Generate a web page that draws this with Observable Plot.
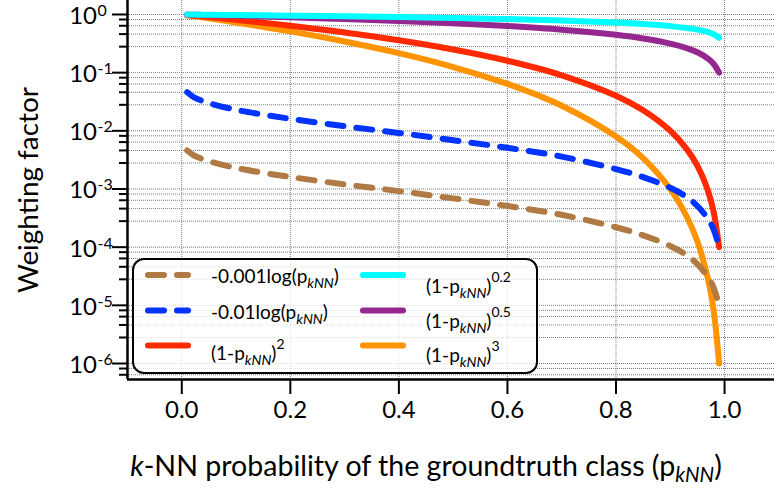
<!DOCTYPE html>
<html><head><meta charset="utf-8">
<script src="https://cdn.jsdelivr.net/npm/d3@7"></script>
<script src="https://cdn.jsdelivr.net/npm/@observablehq/plot@0.6"></script>
<style>body{margin:0;background:#fff;} svg{display:block}</style>
</head><body><div id="chart"></div>
<script>
// ---- data ----
const pKNN   = [0.01,0.02,0.03,0.05,0.1,0.15,0.2,0.3,0.4,0.5,0.6,0.7,0.8,0.85,0.9,0.93,0.95,0.97,0.98,0.99];
const wLog001 = [4.6e-3,3.9e-3,3.5e-3,3.0e-3,2.3e-3,1.9e-3,1.61e-3,1.2e-3,9.2e-4,6.9e-4,5.1e-4,3.6e-4,2.2e-4,1.6e-4,1.05e-4,7.3e-5,5.1e-5,3.0e-5,2.0e-5,1.0e-5];
const wLog01  = [4.6e-2,3.9e-2,3.5e-2,3.0e-2,2.3e-2,1.9e-2,1.61e-2,1.2e-2,9.2e-3,6.9e-3,5.1e-3,3.6e-3,2.2e-3,1.6e-3,1.05e-3,7.3e-4,5.1e-4,3.0e-4,2.0e-4,1.0e-4];
const wPow2   = [0.98,0.96,0.941,0.903,0.81,0.723,0.64,0.49,0.36,0.25,0.16,0.09,0.04,0.0225,0.01,0.0049,0.0025,0.0009,0.0004,0.0001];
const wPow02  = [0.998,0.996,0.994,0.990,0.979,0.968,0.956,0.931,0.903,0.871,0.833,0.786,0.725,0.684,0.631,0.588,0.549,0.496,0.457,0.398];
const wPow05  = [0.995,0.990,0.985,0.975,0.949,0.922,0.894,0.837,0.775,0.707,0.632,0.548,0.447,0.387,0.316,0.265,0.224,0.173,0.141,0.1];
const wPow3   = [0.970,0.941,0.913,0.857,0.729,0.614,0.512,0.343,0.216,0.125,0.064,0.027,0.008,0.0034,0.001,0.00034,0.000125,0.000027,0.000008,0.000001];

const seriesKeys   = ["log001","log01","pow2","pow02","pow05","pow3"];
const seriesValues = [wLog001, wLog01, wPow2, wPow02, wPow05, wPow3];
const seriesColors = ["#B07A44","#0033FF","#FF2A00","#00FFFF","#952791","#FF9400"];
const seriesDashed = [true, true, false, false, false, false];
const drawOrder    = ["pow3","pow2","pow05","pow02","log001","log01"];
const legendMain   = ["-0.001log(p","-0.01log(p","(1-p","(1-p","(1-p","(1-p"];
const legendSub    = ["kNN","kNN","kNN","kNN","kNN","kNN"];
const legendSup    = ["","","2","0.2","0.5","3"];

const xTicks = [0,0.2,0.4,0.6,0.8,1.0];
const yMajorExp = [0,-1,-2,-3,-4,-5,-6];
const yMinorFactors = [0.82,0.64,0.46,0.28];
const xDomain = [-0.1, 1.092];
const yDomain = [Math.pow(10,-6.275), Math.pow(10,0.2405)];

// ---- build table ----
const rows = [];
seriesKeys.forEach((k, s) => pKNN.forEach((p, i) => rows.push({key: k, p, w: seriesValues[s][i]})));
const yMajors = yMajorExp.map(e => Math.pow(10, e));
const yMinors = yMajorExp.flatMap(e => yMinorFactors.map(f => f * Math.pow(10, e)))
  .filter(v => v >= yDomain[0] && v <= yDomain[1]);

const lineMarks = drawOrder.map(k => {
  const s = seriesKeys.indexOf(k);
  return Plot.line(rows.filter(r => r.key === k), {
    x: "p", y: "w", stroke: seriesColors[s], strokeWidth: 6,
    strokeLinecap: "round", strokeLinejoin: "round", curve: "catmull-rom",
    strokeDasharray: seriesDashed[s] ? "16,13" : null
  });
});

const grid = {stroke: "#7a7a7a", strokeWidth: 1, strokeDasharray: "1,1"};

const svg = Plot.plot({
  width: 774, height: 488,
  marginLeft: 127, marginRight: 0, marginTop: 0, marginBottom: 109,
  style: {fontFamily: "Lato, sans-serif", fontSize: "24px", color: "black", background: "white", overflow: "visible"},
  x: {domain: xDomain},
  y: {type: "log", domain: yDomain},
  marks: [
    Plot.ruleY(yMajors.concat(yMinors), grid),
    Plot.ruleX(xTicks, grid),
    ...lineMarks,
    Plot.axisX({ticks: xTicks, tickSize: 15, tickPadding: 6, tickFormat: d3.format(".1f"), strokeWidth: 2, label: null, fontSize: 24}),
    Plot.axisY({ticks: yMajors, tickSize: 15, tickFormat: () => "", strokeWidth: 2, label: null}),
    Plot.axisY({ticks: yMinors, tickSize: 8, tickFormat: () => "", strokeWidth: 2, label: null}),
    Plot.ruleX([xDomain[0]], {strokeWidth: 2.5, stroke: "black"}),
    Plot.ruleY([yDomain[0]], {strokeWidth: 2.5, stroke: "black"})
  ]
});
document.getElementById("chart").appendChild(svg);

const root = d3.select(svg);
const yS = svg.scale("y");
const FONT = "Lato, sans-serif";

// y tick labels 10^n
const yl = root.append("g").attr("font-family", FONT);
yMajorExp.forEach(e => {
  const y = yS.apply(Math.pow(10, e));
  yl.append("text").attr("x", 97).attr("y", y + 10).attr("text-anchor", "end")
    .attr("font-size", 24).text("10");
  yl.append("text").attr("x", 97.5).attr("y", y + 2).attr("text-anchor", "start")
    .attr("font-size", 16).text(String(e));
});

// axis titles
function fitWidth(sel, target) {
  const w = sel.node().getComputedTextLength();
  const fs = parseFloat(sel.attr("font-size"));
  sel.attr("font-size", fs * target / w);
}
const xl = root.append("text").attr("font-family", FONT).attr("font-size", 26)
  .attr("x", 426).attr("y", 476).attr("text-anchor", "middle");
xl.append("tspan").attr("font-style", "italic").text("k");
xl.append("tspan").text("-NN probability of the groundtruth class (p");
xl.append("tspan").attr("font-style", "italic").attr("font-size", "0.72em").attr("dy", 6).text("kNN");
xl.append("tspan").attr("dy", -6).text(")");
fitWidth(xl, 592);

const ylab = root.append("text").attr("font-family", FONT).attr("font-size", 26)
  .attr("text-anchor", "middle").attr("transform", "translate(38,190) rotate(-90)")
  .text("Weighting factor");
fitWidth(ylab, 206);

// legend
const leg = root.append("g").attr("font-family", FONT).attr("text-anchor", "start");
leg.append("rect").attr("x", 133).attr("y", 259).attr("width", 404).attr("height", 114)
  .attr("rx", 11).attr("fill", "white").attr("fill-opacity", 0.8)
  .attr("stroke", "black").attr("stroke-width", 2);
const legOrder = ["log001","log01","pow2","pow02","pow05","pow3"];
const colX1 = [148, 363], colX2 = [188, 403], colTX = [211, 426];
const rowY = [275, 310.5, 345.5];
const textOff = [[8, 18], [8, 17], [14, 16]];
legOrder.forEach((k, i) => {
  const s = seriesKeys.indexOf(k);
  const col = Math.floor(i / 3), row = i % 3;
  leg.append("line").attr("x1", colX1[col]).attr("x2", colX2[col])
    .attr("y1", rowY[row]).attr("y2", rowY[row])
    .attr("stroke", seriesColors[s]).attr("stroke-width", 6).attr("stroke-linecap", "round")
    .attr("stroke-dasharray", seriesDashed[s] ? "16,13" : null);
  const t = leg.append("text").attr("x", colTX[col]).attr("y", rowY[row] + textOff[row][col])
    .attr("font-size", 19).attr("text-anchor", "start");
  t.append("tspan").text(legendMain[s]);
  t.append("tspan").attr("font-style", "italic").attr("font-size", 14).attr("dy", 5).text(legendSub[s]);
  t.append("tspan").attr("dy", -5).text(")");
  if (legendSup[s]) t.append("tspan").attr("font-size", 14).attr("dy", -11).text(legendSup[s]);
});
</script>
</body></html>
